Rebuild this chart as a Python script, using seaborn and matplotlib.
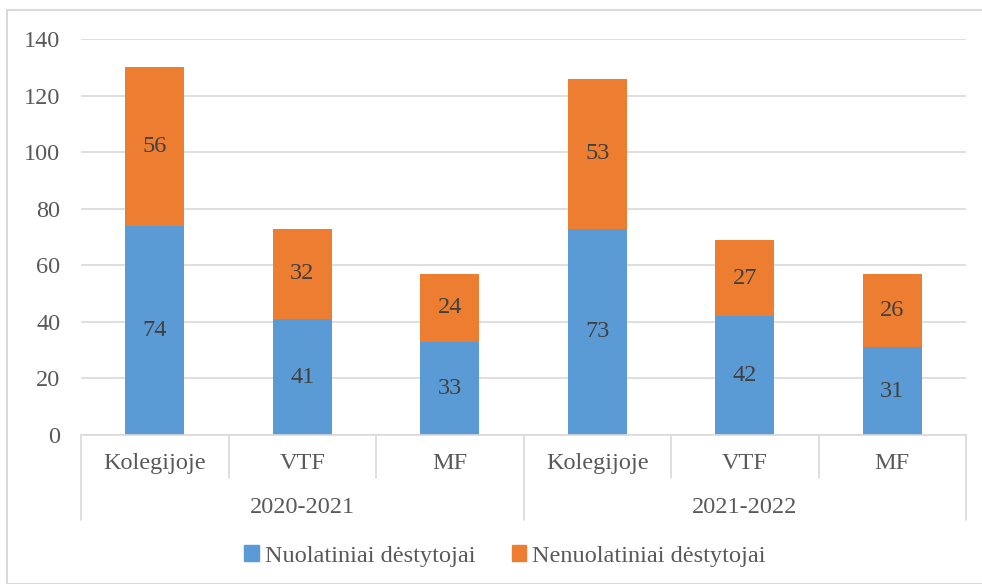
import pandas as pd
import seaborn as sns
import matplotlib.pyplot as plt
from matplotlib.patches import Patch, Rectangle

years = ["2020-2021", "2021-2022"]
units = ["Kolegijoje", "VTF", "MF"]
full_time = [74, 41, 33, 73, 42, 31]
part_time = [56, 32, 24, 53, 27, 26]

keys = [f"{u}|{y}" for y in years for u in units]
df = pd.DataFrame({"key": keys, "full": full_time, "part": part_time})
df["total"] = df["full"] + df["part"]

blue = "#5B9BD5"
orange = "#ED7D31"
txt = "#595959"
grid = "#D9D9D9"
fs = 17.5

sns.set_style("white")
plt.rcParams["font.family"] = ["Liberation Serif", "DejaVu Serif"]

fig = plt.figure(figsize=(9.82, 5.84), dpi=100)
ax = fig.add_axes([81 / 982, 1 - 435 / 584, 885 / 982, 396 / 584])

sns.barplot(ax=ax, data=df, x="key", y="total", order=keys, color=orange,
            saturation=1, width=0.4, linewidth=0)
sns.barplot(ax=ax, data=df, x="key", y="full", order=keys, color=blue,
            saturation=1, width=0.4, linewidth=0)

bars = ax.patches
n = len(keys)
for i, p in enumerate(bars[:n]):
    ax.text(p.get_x() + p.get_width() / 2, df["full"][i] + df["part"][i] / 2,
            str(df["part"][i]), ha="center", va="center", fontsize=fs, color="#404040")
for i, p in enumerate(bars[n:]):
    ax.text(p.get_x() + p.get_width() / 2, df["full"][i] / 2,
            str(df["full"][i]), ha="center", va="center", fontsize=fs, color="#404040")

ax.set_ylim(0, 140)
ax.set_xlim(-0.5, n - 0.5)
ax.set_yticks(range(0, 141, 20))
ax.tick_params(axis="y", labelsize=fs, labelcolor=txt, length=0, pad=15)
ax.set_xticks([])
ax.set_xlabel("")
ax.set_ylabel("")
ax.yaxis.grid(True, color=grid, linewidth=1.2)
ax.set_axisbelow(True)
for s in ["left", "right", "top"]:
    ax.spines[s].set_visible(False)
ax.spines["bottom"].set_color(grid)
ax.spines["bottom"].set_linewidth(1.2)

# two-level category axis
trans = ax.get_xaxis_transform()
for i in range(n + 1):
    x = i - 0.5
    depth = -0.215 if i % 3 == 0 else -0.109
    ax.plot([x, x], [0, depth], transform=trans, color=grid, lw=1.2, clip_on=False)
for i, k in enumerate(keys):
    ax.text(i, -0.072, k.split("|")[0], transform=trans, ha="center", va="center",
            fontsize=fs, color=txt)
for g, y in enumerate(years):
    ax.text(g * 3 + 1, -0.183, y, transform=trans, ha="center", va="center",
            fontsize=fs, color=txt)

handles = [Patch(color=blue, label="Nuolatiniai dėstytojai"),
           Patch(color=orange, label="Nenuolatiniai dėstytojai")]
fig.legend(handles=handles, loc="center", bbox_to_anchor=(505 / 982, 1 - 556 / 584),
           ncol=2, frameon=False, fontsize=fs, labelcolor=txt, handlelength=0.6,
           handleheight=0.6, handletextpad=0.25, columnspacing=1.5)

fig.patches.append(Rectangle((7 / 982, 0), 1, 1 - 10 / 584, transform=fig.transFigure,
                             fill=False, edgecolor=grid, lw=1.5))

fig.savefig("out.png", dpi=100)
